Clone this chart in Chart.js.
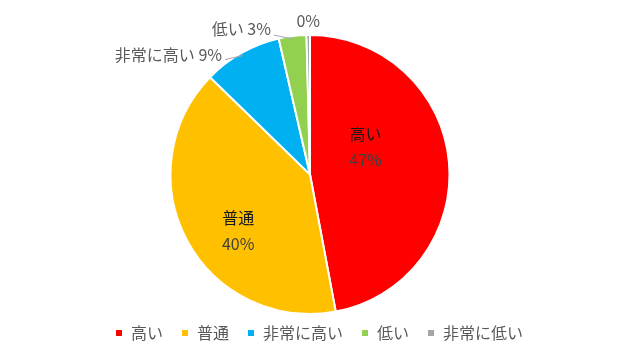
<!DOCTYPE html>
<html>
<head>
<meta charset="utf-8">
<script src="https://cdn.jsdelivr.net/npm/chart.js@4"></script>
<style>
  html, body { margin: 0; padding: 0; background: #fff; }
  #wrap { width: 628px; height: 351px; }
</style>
</head>
<body>
<div id="wrap"><canvas id="pieChart" width="628" height="351"></canvas></div>
<script>
// values (percent of answers)
let labels = ["高い", "普通", "非常に高い", "低い", "非常に低い"];
let values = [47.0, 40.2, 9.1, 3.2, 0.4];
let pctText = ["47%", "40%", "9%", "3%", "0%"];
let colors = ["#FF0000", "#FFC000", "#00B0F0", "#92D050", "#A5A5A5"];

let font = "'Noto Sans CJK JP', 'Noto Sans', sans-serif";

// draws the data labels like Excel does: big slices inside, small ones outside with a leader
let sliceLabels = {
    id: "sliceLabels",
    afterDatasetsDraw(chart) {
        let ctx = chart.ctx;
        let arcs = chart.getDatasetMeta(0).data;
        ctx.save();
        ctx.font = "16px " + font;
        arcs.forEach(function (arc, i) {
            let p = arc.getProps(["x", "y", "startAngle", "endAngle", "outerRadius"], true);
            let mid = (p.startAngle + p.endAngle) / 2;
            let cos = Math.cos(mid), sin = Math.sin(mid);
            if (i < 2) {
                let f = i === 0 ? 0.4 : 0.6;
                let dy = i === 0 ? -22 : 17;
                let dx = i === 0 ? 0 : 2;
                let x = p.x + cos * p.outerRadius * f + dx;
                let y = p.y + sin * p.outerRadius * f + dy;
                ctx.textAlign = "center";
                ctx.textBaseline = "middle";
                ctx.fillStyle = "#1a1a1a";
                ctx.fillText(labels[i], x, y - 13);
                ctx.fillStyle = "#404040";
                ctx.fillText(pctText[i], x, y + 13);
            } else {
                let r = p.outerRadius;
                let ex = p.x + cos * (r - 3), ey = p.y + sin * (r - 3);
                let text = i === 4 ? pctText[i] : labels[i] + " " + pctText[i];
                ctx.fillStyle = "#595959";
                ctx.textBaseline = "middle";
                if (i === 4) {
                    ctx.textAlign = "center";
                    ctx.fillText(text, ex, ey - 17);
                    return;
                }
                let tx = i === 2 ? ex - 18 : ex - 19;
                let ty = i === 2 ? ey + 4 : ey - 4;
                ctx.strokeStyle = "#A6A6A6";
                ctx.lineWidth = 1;
                ctx.beginPath();
                ctx.moveTo(ex, ey);
                ctx.lineTo(tx, ty);
                ctx.stroke();
                ctx.textAlign = "right";
                ctx.fillText(text, tx - 3, ty - (i === 2 ? 5 : 6));
            }
        });
        ctx.restore();
    }
};

// the legend row sits a bit right of the pie centre in the original
let legendShift = {
    id: "legendShift",
    afterLayout(chart) {
        chart.legend.left += 13;
        chart.legend.right += 13;
    }
};

new Chart(document.getElementById("pieChart"), {
    type: "pie",
    data: {
        labels: labels,
        datasets: [{
            data: values,
            backgroundColor: colors,
            borderColor: "#FFFFFF",
            borderWidth: 2
        }]
    },
    options: {
        responsive: false,
        animation: false,
        layout: { padding: { top: 34, bottom: 0, left: 0, right: 8 } },
        plugins: {
            tooltip: { enabled: false },
            legend: {
                position: "bottom",
                labels: {
                    boxWidth: 8,
                    boxHeight: 8,
                    padding: 10,
                    color: "#595959",
                    font: { family: font, size: 16 },
                    generateLabels: function (chart) {
                        let items = Chart.PieController.overrides.plugins.legend.labels.generateLabels(chart);
                        items.forEach(function (it) { it.text = it.text + "\u2002"; });
                        return items;
                    }
                }
            }
        }
    },
    plugins: [sliceLabels, legendShift]
});
</script>
</body>
</html>
